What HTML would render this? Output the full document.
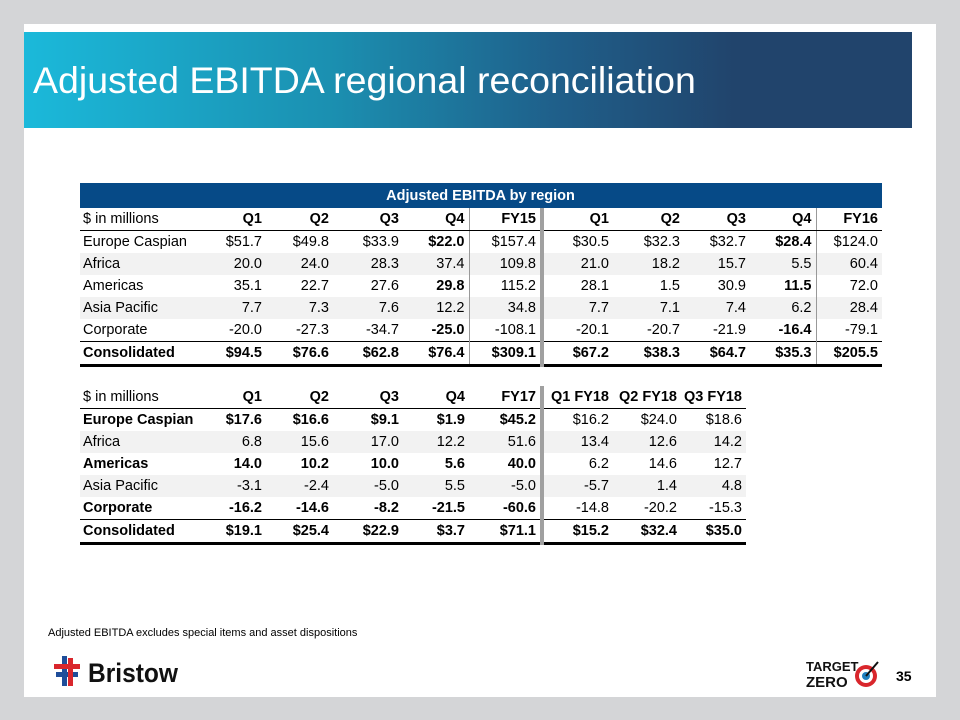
<!DOCTYPE html>
<html><head><meta charset="utf-8"><style>
body{margin:0;width:960px;height:720px;background:#d4d5d7;position:relative;overflow:hidden;font-family:"Liberation Sans",Arial,sans-serif}
#slide{position:absolute;left:24px;top:24px;width:912px;height:673px;background:#fff}
#hdr{position:absolute;left:24px;top:32px;width:888px;height:96px;background:linear-gradient(90deg,#1bb9da 0%,#1b8fb0 35%,#1f5f8a 60%,#21446c 80%,#21446c 100%)}
#title{position:absolute;left:33px;top:59px;font-size:37.5px;color:#fff;white-space:nowrap}
table{position:absolute;border-collapse:collapse;font-size:14.5px;color:#000}
td{height:22px;padding:0 4px 0 0;text-align:right;white-space:nowrap}
td:first-child{text-align:left;padding-left:3px}
.g td{background:#f2f2f2}
.b{font-weight:bold}
.hr td{border-bottom:1.5px solid #000;font-weight:bold}
.hr td:first-child{font-weight:normal}
.cons td{border-top:1.5px solid #000;border-bottom:3px solid #000;font-weight:bold}
.sep{border-right:4px solid #a0a0a0}
.vl{border-right:1px solid #999}
.cap{background:#064a87;color:#fff;font-weight:bold;text-align:center!important;height:25px}
</style></head><body>
<div id="slide"></div>
<div id="hdr"></div>
<div id="title">Adjusted EBITDA regional reconciliation</div>

<table style="left:80px;top:183px;width:802px">
<colgroup><col style="width:120px"><col style="width:66px"><col style="width:67px"><col style="width:70px"><col style="width:66px"><col style="width:73px"><col style="width:71px"><col style="width:71px"><col style="width:66px"><col style="width:66px"><col style="width:66px"></colgroup>
<tr><td colspan="11" class="cap">Adjusted EBITDA by region</td></tr>
<tr class="hr"><td>$ in millions</td><td>Q1</td><td>Q2</td><td>Q3</td><td class="vl">Q4</td><td class="sep">FY15</td><td>Q1</td><td>Q2</td><td>Q3</td><td class="vl">Q4</td><td>FY16</td></tr>
<tr><td>Europe Caspian</td><td>$51.7</td><td>$49.8</td><td>$33.9</td><td class="vl b">$22.0</td><td class="sep">$157.4</td><td>$30.5</td><td>$32.3</td><td>$32.7</td><td class="vl b">$28.4</td><td>$124.0</td></tr>
<tr class="g"><td>Africa</td><td>20.0</td><td>24.0</td><td>28.3</td><td class="vl">37.4</td><td class="sep">109.8</td><td>21.0</td><td>18.2</td><td>15.7</td><td class="vl">5.5</td><td>60.4</td></tr>
<tr><td>Americas</td><td>35.1</td><td>22.7</td><td>27.6</td><td class="vl b">29.8</td><td class="sep">115.2</td><td>28.1</td><td>1.5</td><td>30.9</td><td class="vl b">11.5</td><td>72.0</td></tr>
<tr class="g"><td>Asia Pacific</td><td>7.7</td><td>7.3</td><td>7.6</td><td class="vl">12.2</td><td class="sep">34.8</td><td>7.7</td><td>7.1</td><td>7.4</td><td class="vl">6.2</td><td>28.4</td></tr>
<tr><td>Corporate</td><td>-20.0</td><td>-27.3</td><td>-34.7</td><td class="vl b">-25.0</td><td class="sep">-108.1</td><td>-20.1</td><td>-20.7</td><td>-21.9</td><td class="vl b">-16.4</td><td>-79.1</td></tr>
<tr class="cons"><td>Consolidated</td><td>$94.5</td><td>$76.6</td><td>$62.8</td><td class="vl">$76.4</td><td class="sep">$309.1</td><td>$67.2</td><td>$38.3</td><td>$64.7</td><td class="vl">$35.3</td><td>$205.5</td></tr>
</table>

<table style="left:80px;top:386px;width:666px">
<colgroup><col style="width:120px"><col style="width:66px"><col style="width:67px"><col style="width:70px"><col style="width:66px"><col style="width:73px"><col style="width:71px"><col style="width:68px"><col style="width:65px"></colgroup>
<tr class="hr"><td>$ in millions</td><td>Q1</td><td>Q2</td><td>Q3</td><td>Q4</td><td class="sep">FY17</td><td>Q1 FY18</td><td>Q2 FY18</td><td>Q3 FY18</td></tr>
<tr class="b"><td>Europe Caspian</td><td>$17.6</td><td>$16.6</td><td>$9.1</td><td>$1.9</td><td class="sep">$45.2</td><td style="font-weight:normal">$16.2</td><td style="font-weight:normal">$24.0</td><td style="font-weight:normal">$18.6</td></tr>
<tr class="g"><td>Africa</td><td>6.8</td><td>15.6</td><td>17.0</td><td>12.2</td><td class="sep">51.6</td><td>13.4</td><td>12.6</td><td>14.2</td></tr>
<tr class="b"><td>Americas</td><td>14.0</td><td>10.2</td><td>10.0</td><td>5.6</td><td class="sep">40.0</td><td style="font-weight:normal">6.2</td><td style="font-weight:normal">14.6</td><td style="font-weight:normal">12.7</td></tr>
<tr class="g"><td>Asia Pacific</td><td>-3.1</td><td>-2.4</td><td>-5.0</td><td>5.5</td><td class="sep">-5.0</td><td>-5.7</td><td>1.4</td><td>4.8</td></tr>
<tr class="b"><td>Corporate</td><td>-16.2</td><td>-14.6</td><td>-8.2</td><td>-21.5</td><td class="sep">-60.6</td><td style="font-weight:normal">-14.8</td><td style="font-weight:normal">-20.2</td><td style="font-weight:normal">-15.3</td></tr>
<tr class="cons"><td>Consolidated</td><td>$19.1</td><td>$25.4</td><td>$22.9</td><td>$3.7</td><td class="sep">$71.1</td><td>$15.2</td><td>$32.4</td><td>$35.0</td></tr>
</table>

<div style="position:absolute;left:48px;top:627px;font-size:11px">Adjusted EBITDA excludes special items and asset dispositions</div>

<div style="position:absolute;left:54px;top:650px">
<svg width="130" height="40"><rect x="8" y="6" width="5" height="30" fill="#1f4e9a"/><rect x="0" y="14" width="26" height="5" fill="#d9262c"/><rect x="2" y="22" width="22" height="5" fill="#1f4e9a"/><rect x="14" y="8" width="5" height="28" fill="#d9262c"/>
<text x="34" y="32" font-family="Liberation Sans,sans-serif" font-weight="bold" font-size="27" textLength="90" lengthAdjust="spacingAndGlyphs" fill="#111">Bristow</text></svg></div>

<div style="position:absolute;left:802px;top:654px">
<svg width="90" height="40"><text x="4" y="17" font-size="13" font-weight="bold" font-family="Liberation Sans,sans-serif" fill="#111">TARGET</text><text x="4" y="33" font-size="15" font-weight="bold" font-family="Liberation Sans,sans-serif" fill="#111">ZERO</text>
<circle cx="64" cy="22" r="11" fill="#d9262c"/><circle cx="64" cy="22" r="7" fill="#fff"/><circle cx="64" cy="22" r="4" fill="#1f7fbf"/><line x1="64" y1="22" x2="76" y2="8" stroke="#111" stroke-width="2"/></svg></div>
<div style="position:absolute;left:896px;top:668px;font-size:14px;font-weight:bold">35</div>
</body></html>
